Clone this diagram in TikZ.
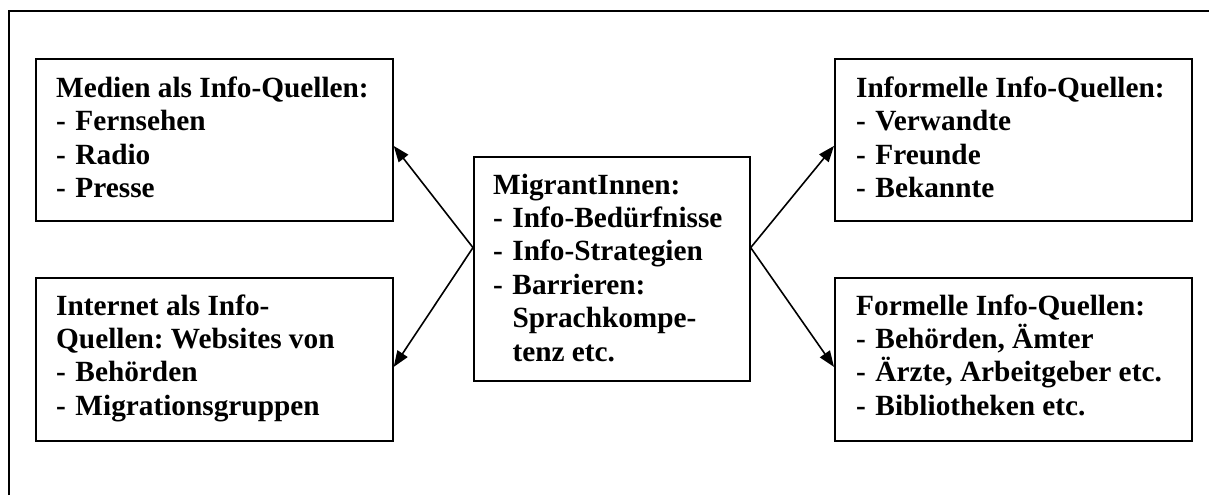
\documentclass[tikz,border=0pt]{standalone}
\usepackage{fontspec}
\setmainfont{Liberation Serif}
\usetikzlibrary{arrows.meta,calc}
\newcommand\lidash{\makebox[19.3pt][l]{-}}
\frenchspacing
\begin{document}
\begin{tikzpicture}[x=1pt,y=-1pt,
  box/.style={draw, line width=1.7pt, rectangle, inner sep=0pt, anchor=north west},
  txt/.style={anchor=base west, inner sep=0pt, font=\fontsize{29.3}{33.4}\selectfont\bfseries},
  arr/.style={line width=1.6pt, -{Triangle[length=16pt,width=12pt]}}]
\useasboundingbox (0,0) rectangle (1209,495);
\draw[line width=2pt] (9,495) -- (9,11) -- (1209,11);

\node[box, minimum width=357pt, minimum height=162pt] (b1) at (35,58) {};
\node[box, minimum width=357pt, minimum height=163pt] (b2) at (35,277) {};
\node[box, minimum width=357pt, minimum height=162pt] (b3) at (834,58) {};
\node[box, minimum width=357pt, minimum height=163pt] (b4) at (834,277) {};
\node[box, minimum width=276pt, minimum height=224pt] (c) at (473,156) {};

\node[txt] (t1) at (56,97.3) {\parbox[t]{340pt}{Medien als Info-Quellen:\\\lidash Fernsehen\\\lidash Radio\\\lidash Presse}};
\node[txt] (t2) at (56,315) {\parbox[t]{340pt}{Internet als Info-\\Quellen: Websites von\\\lidash Behörden\\\lidash Migrationsgruppen}};
\node[txt] (t3) at (856,97.3) {\parbox[t]{340pt}{Informelle Info-Quellen:\\\lidash Verwandte\\\lidash Freunde\\\lidash Bekannte}};
\node[txt] (t4) at (856,315) {\parbox[t]{340pt}{Formelle Info-Quellen:\\\lidash Behörden, Ämter\\\lidash Ärzte, Arbeitgeber etc.\\\lidash Bibliotheken etc.}};
\node[txt] (tc) at (493,194) {\parbox[t]{260pt}{MigrantInnen:\\\lidash Info-Bedürfnisse\\\lidash Info-Strategien\\\lidash Barrieren:\\\hspace*{19.3pt}Sprachkompe-\\\hspace*{19.3pt}tenz etc.}};

\coordinate (cl) at ($(c.north west)!0.406!(c.south west)$);
\coordinate (cr) at ($(c.north east)!0.406!(c.south east)$);
\coordinate (e1) at ($(b1.north east)!0.537!(b1.south east)$);
\coordinate (e2) at ($(b2.north east)!0.546!(b2.south east)$);
\coordinate (e3) at ($(b3.north west)!0.537!(b3.south west)$);
\coordinate (e4) at ($(b4.north west)!0.546!(b4.south west)$);
\draw[arr] (cl) -- (e1);
\draw[arr] (cl) -- (e2);
\draw[arr] (cr) -- (e3);
\draw[arr] (cr) -- (e4);
\end{tikzpicture}
\end{document}
